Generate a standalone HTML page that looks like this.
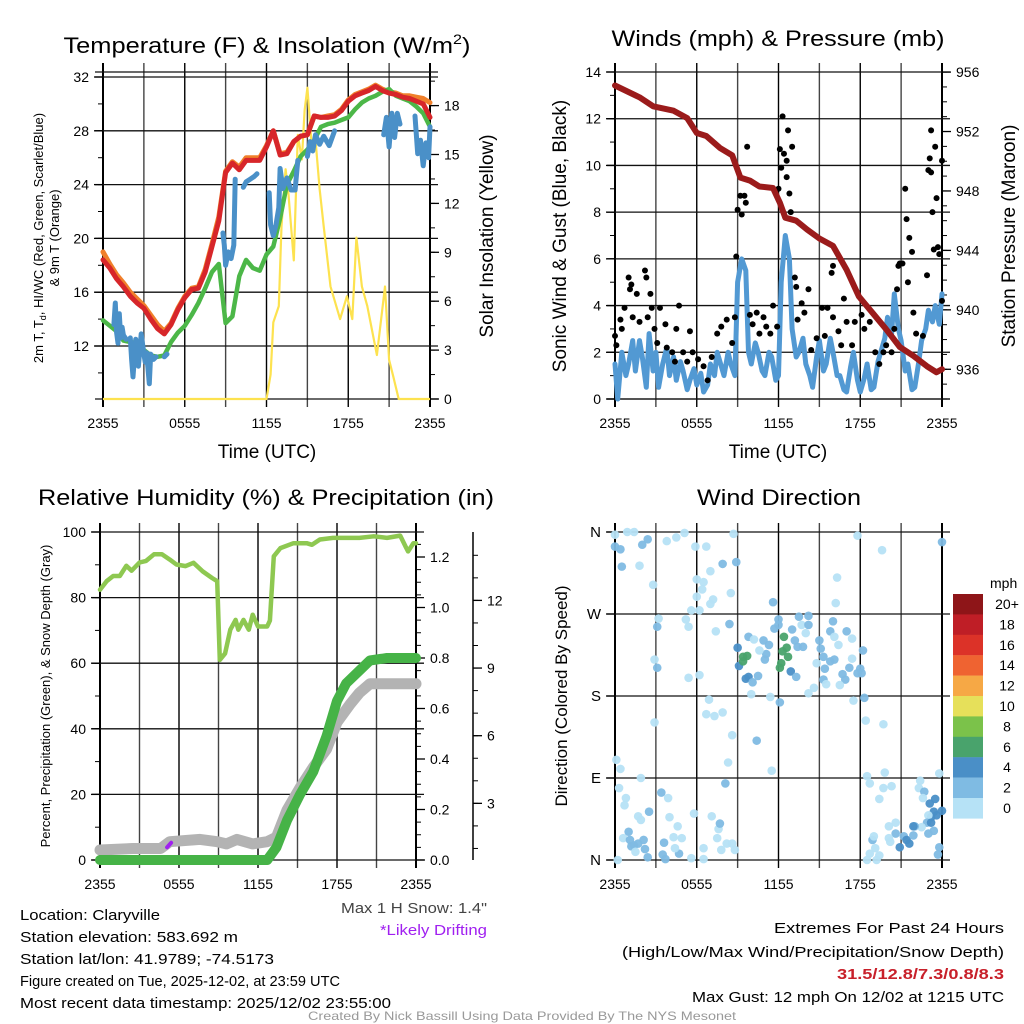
<!DOCTYPE html>
<html><head><meta charset="utf-8"><style>
html,body{margin:0;padding:0;background:#fff;}
svg{display:block;font-family:"Liberation Sans",sans-serif;}
</style></head><body>
<svg id="fig" xmlns="http://www.w3.org/2000/svg" width="1024" height="1024" viewBox="0 0 1024 1024">
<rect x="0" y="0" width="1024" height="1024" fill="#fff"/>
<text x="267" y="53" font-size="22" text-anchor="middle" textLength="407" lengthAdjust="spacingAndGlyphs">Temperature (F) &amp; Insolation (W/m<tspan font-size="14" dy="-9">2</tspan><tspan dy="9">)</tspan></text>
<text x="778" y="46" font-size="22" text-anchor="middle" textLength="333" lengthAdjust="spacingAndGlyphs">Winds (mph) &amp; Pressure (mb)</text>
<text x="266" y="505" font-size="22" text-anchor="middle" textLength="456" lengthAdjust="spacingAndGlyphs">Relative Humidity (%) &amp; Precipitation (in)</text>
<text x="779" y="505" font-size="22" text-anchor="middle" textLength="164" lengthAdjust="spacingAndGlyphs">Wind Direction</text>
<text x="267" y="458" font-size="19" text-anchor="middle">Time (UTC)</text>
<text x="778" y="458" font-size="19" text-anchor="middle">Time (UTC)</text>
<text transform="translate(43,238) rotate(-90)" font-size="13" text-anchor="middle">2m T, T<tspan font-size="9" dy="3">d</tspan><tspan dy="-3">, HI/WC (Red, Green, Scarlet/Blue)</tspan></text>
<text transform="translate(59,238) rotate(-90)" font-size="13" text-anchor="middle">&amp; 9m T (Orange)</text>
<text transform="translate(493,236) rotate(-90)" font-size="19" text-anchor="middle">Solar Insolation (Yellow)</text>
<text transform="translate(566,236) rotate(-90)" font-size="19" text-anchor="middle">Sonic Wind &amp; Gust (Blue, Black)</text>
<text transform="translate(1015,236) rotate(-90)" font-size="19" text-anchor="middle">Station Pressure (Maroon)</text>
<text transform="translate(50,696) rotate(-90)" font-size="13" text-anchor="middle">Percent, Precipitation (Green), &amp; Snow Depth (Gray)</text>
<text transform="translate(567,696) rotate(-90)" font-size="17" text-anchor="middle">Direction (Colored By Speed)</text>
<g font-size="15">
<text x="20" y="920" textLength="140" lengthAdjust="spacingAndGlyphs">Location: Claryville</text>
<text x="20" y="942" textLength="218" lengthAdjust="spacingAndGlyphs">Station elevation: 583.692 m</text>
<text x="20" y="964" textLength="254" lengthAdjust="spacingAndGlyphs">Station lat/lon: 41.9789; -74.5173</text>
<text x="20" y="986" font-size="14.5" textLength="320" lengthAdjust="spacingAndGlyphs">Figure created on Tue, 2025-12-02, at 23:59 UTC</text>
<text x="20" y="1008" textLength="371" lengthAdjust="spacingAndGlyphs">Most recent data timestamp: 2025/12/02 23:55:00</text>
<text x="341" y="913" fill="#444" textLength="146" lengthAdjust="spacingAndGlyphs">Max 1 H Snow: 1.4"</text>
<text x="380" y="935" fill="#a020f0" textLength="107" lengthAdjust="spacingAndGlyphs">*Likely Drifting</text>
<text x="774" y="933" textLength="230" lengthAdjust="spacingAndGlyphs">Extremes For Past 24 Hours</text>
<text x="622" y="957" textLength="382" lengthAdjust="spacingAndGlyphs">(High/Low/Max Wind/Precipitation/Snow Depth)</text>
<text x="837" y="979" fill="#c8202a" font-weight="bold" textLength="167" lengthAdjust="spacingAndGlyphs">31.5/12.8/7.3/0.8/8.3</text>
<text x="692" y="1002" textLength="312" lengthAdjust="spacingAndGlyphs">Max Gust: 12 mph On 12/02 at 1215 UTC</text>
<text x="308" y="1020" font-size="12" fill="#999" textLength="428" lengthAdjust="spacingAndGlyphs">Created By Nick Bassill Using Data Provided By The NYS Mesonet</text>
</g>
</svg>
<script>
// ---------- Data ----------
const hourTicks = [0, 6, 12, 18, 24];
const hourTickLabels = ["2355", "0555", "1155", "1755", "2355"];
const halfHours = [0,0.5,1,1.5,2,2.5,3,3.5,4,4.5,5,5.5,6,6.5,7,7.5,8,8.5,9,9.5,10,10.5,11,11.5,12,12.5,13,13.5,14,14.5,15,15.5,16,16.5,17,17.5,18,18.5,19,19.5,20,20.5,21,21.5,22,22.5,23,23.5,24];
const tempRed = [18.4,17.8,17.0,16.4,15.7,15.2,14.8,14.0,13.3,12.9,13.6,14.7,15.6,16.2,16.3,17.5,19.4,21.3,24.9,25.6,25.1,25.8,25.8,25.8,26.8,28.0,26.2,26.3,27.2,27.6,27.7,29.1,29.0,29.0,29.1,29.5,30.2,30.6,30.8,31.0,31.3,31.0,30.8,30.7,30.5,30.4,30.2,30.0,29.0];
const tempOrange = [19.0,18.1,17.3,16.7,16.0,15.5,15.0,14.3,13.6,13.1,13.7,14.8,15.7,16.3,16.4,17.7,19.6,21.6,25.0,25.7,25.3,26.0,26.0,26.0,26.9,28.0,26.3,26.4,27.2,27.6,27.7,29.1,29.0,29.1,29.2,29.6,30.3,30.7,30.9,31.1,31.4,31.1,30.9,30.8,30.6,30.6,30.5,30.4,30.1];
const tempGreen = [13.9,13.5,13.1,12.4,12.3,12.2,11.7,11.3,11.2,11.3,12.3,13.0,13.5,14.3,15.2,16.3,17.5,18.1,13.7,14.2,17.2,18.4,17.8,17.6,18.8,19.4,21.5,24.0,25.0,26.1,26.6,27.3,28.3,28.5,28.6,28.8,29.0,29.6,30.1,30.4,30.6,30.9,31.1,30.6,30.4,30.2,29.8,29.3,28.3];
const wcHours = [0.8,0.9,1.0,1.1,1.2,1.3,1.4,1.5,1.7,null,2.0,2.1,2.2,2.4,2.6,2.8,3.0,3.1,3.2,3.4,3.5,3.7,3.9,null,4.5,4.7,null,8.8,8.9,9.0,9.2,9.4,9.6,9.7,null,10.3,10.5,10.8,11.1,11.3,null,12.2,12.3,12.5,12.7,12.9,13.0,13.2,13.5,13.8,14.1,14.3,null,15.0,15.2,15.4,15.6,15.9,16.2,16.6,17.0,null,20.6,20.8,21.0,21.2,21.4,21.6,21.8,null,22.9,23.1,23.3,23.5,23.7,23.9,24];
const wcVals = [13.6,15.2,13.0,12.2,14.4,12.6,13.4,12.8,12.5,null,12.6,11.0,9.7,12.5,10.5,12.9,11.4,10.8,11.5,9.2,11.4,11.0,11.2,null,11.2,11.4,null,20.4,19.5,18.0,19.0,18.5,19.5,24.4,null,23.8,24.2,24.4,24.6,24.8,null,23.4,21.0,20.2,21.0,22.3,25.2,23.7,24.5,23.6,23.6,25.8,null,26.1,27.2,26.5,27.7,27.0,27.6,26.9,28.0,null,27.7,29.0,26.8,29.3,27.5,29.3,28.5,null,29.1,26.3,27.3,25.4,27.1,26.0,28.3];
const solarHours = [0,12,12.3,12.5,12.9,13.1,13.4,13.6,14,14.3,14.6,14.8,15,15.3,15.6,15.9,16.2,16.7,17.4,17.9,18.3,18.6,19,19.4,20.1,20.7,21,21.3,21.7,24];
const solarVals = [0,0,1.5,4.7,5.7,10.6,14.1,12.7,8.5,16.2,14.7,17.7,19.1,15.7,15.9,12.9,10.6,6.9,4.9,6.3,4.9,9.9,6.9,5.7,2.7,6.9,2.4,1.4,0,0];

const presHours = [0,1.8,2.8,4.3,5.3,6,6.7,7.7,8.6,9.2,9.9,10.6,11.6,12.1,12.5,13.3,14.1,15,16,17,17.9,18.9,19.9,20.9,21.9,22.9,23.6,24];
const presVals = [955.1,954.3,953.7,953.4,952.9,951.9,951.7,950.9,950.4,948.9,948.7,948.3,948.2,947.2,946.2,946.0,945.4,944.8,944.3,942.7,940.9,939.8,938.7,937.5,936.9,936.2,935.8,936.0];
const windHours = [0,0.2,0.5,0.8,1,1.3,1.5,1.8,2,2.3,2.5,2.8,3,3.2,3.5,3.8,4,4.3,4.5,4.8,5,5.3,5.5,5.8,6,6.3,6.5,6.8,7,7.3,7.5,7.8,8,8.3,8.5,8.8,9,9.3,9.6,9.8,10,10.3,10.5,10.8,11,11.3,11.5,11.8,12,12.2,12.5,12.8,13,13.3,13.5,13.8,14,14.3,14.5,14.8,15,15.3,15.5,15.8,16,16.3,16.5,16.8,17,17.3,17.5,17.8,18,18.3,18.5,18.8,19,19.3,19.5,19.8,20,20.3,20.5,20.8,21,21.3,21.5,21.8,22,22.3,22.5,22.8,23,23.3,23.5,23.8,24];
const windVals = [1.5,0,2,1,1.5,2.5,1.2,2.5,1.8,0.5,2.8,1.2,2,0.5,1.5,2.2,1,1.8,0.8,1.6,1.2,0.4,0.8,1.3,0.6,1.1,0.3,0.6,1.5,1.0,2,1.4,1,2.0,1.5,1,5,6,5.5,2,1.5,2.4,2,1.2,1,2.0,1.8,0.8,1,5,7,6,3,1.8,2,2.6,1.5,1.0,0.5,1.8,2.5,1.2,1.5,2.6,2,1.0,1,0.4,0.3,1.4,2,0.8,0.3,0.9,1.5,0.4,0.5,1.6,2,2.6,3.5,2.8,4.5,3.0,2.5,1.2,1.5,0.4,0.5,1.6,2.5,3.0,3.8,3.3,4,3.2,4.5,3.5,2];
const gustHours = [0,0.1,0.4,0.5,0.7,1.0,1.1,1.2,1.3,1.6,1.8,2.2,2.3,2.4,2.6,2.7,2.9,3.1,3.3,3.7,3.8,4.2,4.4,4.5,4.7,5,5.3,5.5,5.7,6.1,6.5,6.8,7.1,7.5,7.8,8.2,8.6,8.8,8.9,9.0,9.2,9.3,9.5,9.6,9.7,9.9,10.1,10.4,10.6,10.9,11.1,11.4,11.6,11.9,12.0,12.1,12.2,12.3,12.4,12.6,12.7,12.6,12.8,12.9,13.0,13.2,13.3,13.4,13.7,13.9,14.2,14.4,14.8,15.2,15.4,15.6,16.0,15.9,16.0,16.4,16.6,16.8,17.0,17.4,17.6,18.1,18.3,18.7,19.1,19.4,19.7,19.9,20.3,20.5,20.7,20.8,20.9,21.1,21.3,21.4,21.5,21.6,21.8,21.9,22.1,22.6,22.9,23.0,23.1,23.2,23.2,23.3,23.4,23.5,23.6,23.7,23.8,24.0,24.0];
const gustVals = [2.7,2.3,3.4,3.0,3.9,5.2,4.7,4.9,3.5,4.5,3.3,5.5,5.2,3.5,4.5,3.9,3.0,2.4,3.9,3.2,2.2,2.0,1.6,3.0,4.0,2.0,1.6,2.9,2.0,1.7,1.4,0.8,1.8,2.8,3.1,3.4,2.4,3.5,6.1,8.1,8.7,7.9,8.7,8.4,10.8,3.6,3.2,3.7,2.8,3.5,3.1,2.8,4.0,3.1,9.0,10.7,9.9,12.1,10.5,10.2,11.5,9.5,8.8,8.0,10.8,5.2,4.8,3.4,4.1,3.7,4.7,2.1,2.6,3.9,2.7,3.9,3.5,5.4,5.7,2.9,2.3,4.3,3.3,2.3,3.3,3.6,3.0,3.3,2.0,1.5,2.0,2.3,2.0,3.0,4.7,5.7,5.8,5.8,9.0,7.7,5.0,6.9,6.3,3.7,2.8,2.7,5.3,9.8,10.3,11.5,9.7,8.0,6.4,10.8,8.6,6.5,6.2,10.2,4.2];

const rhHours = [0,0.5,1,1.5,2,2.4,3,3.5,4.1,4.7,5.3,5.8,6.5,7.1,7.8,8.5,8.9,9.0,9.1,9.5,9.9,10.3,10.5,10.9,11.3,11.6,12,12.7,12.9,13.2,13.7,14.7,15.7,16.1,16.7,17.7,18.7,19.7,20.8,21.8,22.8,23.2,23.4,23.8,24];
const rhVals = [82.4,85,86.6,86.6,89.7,88.2,90.7,91.2,93.2,93.2,91.6,90.1,89.6,90.6,88.0,86.0,85.0,73,61.0,63,70.2,73.2,70.2,73.2,70.2,74.8,71.2,71.2,73,92.6,95.1,96.6,96.6,96.1,97.7,98.2,98.2,98.2,98.7,98.2,98.9,95.6,94.1,96.6,96.6];
const precipHours = [0,12.7,13.4,14.2,15.2,16.2,17.2,18,18.7,19.7,20.5,21.8,24];
const precipVals = [0,0,0.05,0.157,0.26,0.35,0.49,0.63,0.70,0.75,0.79,0.80,0.80];
const snowHours = [0,2.5,4.6,5.3,7.6,8.9,9.6,10.4,11.6,12.7,13.4,14.2,15.2,16.2,17.2,18,19,19.7,20.5,21.5,24];
const snowVals = [0.93,1.0,1.0,1.3,1.4,1.3,1.2,1.4,1.2,1.3,1.5,2.7,3.7,4.6,5.4,6.6,7.4,7.9,8.3,8.3,8.3];
const driftHours = [5.1,5.4];
const driftVals = [1.05,1.25];

const dirHours = [
0,0,0.4,0.9,1.4,2,2.4,0.5,1.8,2.8,
3.8,4.5,5.1,5.9,6.7,7,7.9,8.9,8.7,6,
6.5,6.4,6,7.2,7,8.5,5.6,6.2,3.2,3.1,
5.2,5.4,7.4,8.4,2.9,3.1,5.4,6.2,9,9.1,
9.4,9.7,9.4,9.6,9.8,10.1,10.5,9.8,10.2,10.9,
11.3,11.1,11,10.6,11.6,12,11.7,12,12.4,12.6,
12.3,12.7,12.2,12.1,12.9,13.3,13,13.2,13.5,13.7,
13.8,13.4,14.2,14.2,14,15,15.1,14.8,15.3,15.4,
15.3,15.5,15.8,16,16.1,16.4,15.8,16.1,17,17.4,
17.2,16.7,16.9,16.5,17.4,18.2,18,18.1,17.8,17.8,
16.3,16.2,19.6,18.3,17.5,18.4,19.7,14.6,14.2,11.5,
10.4,8.6,8.3,8.1,7.9,7.3,6.7,6.9,11.4,12.1,
10,2.9,0.1,0.4,1.9,0.3,0.8,0.7,1.7,1.9,
2.5,0.6,1,1.1,1.2,1.4,1.7,2.1,2.2,2.4,
1.5,0.2,3.4,3.9,4,4.6,4.7,3.5,3.7,3.6,
4.4,4.9,4.3,5.8,5.6,6.5,7.1,7.6,7.7,7.5,
7.8,8.2,8.6,8.8,6.5,18.5,18.7,19.8,19.7,20.3,
19.4,22.4,22.3,22.7,22.6,23.1,23.5,23.4,23.2,23.6,
24,23,23.8,22.9,23.2,22.5,22,21.9,23,23.4,
20.6,20.1,20.6,21.2,21.4,21.6,20.9,21.9,20.1,20.2,
18.9,19,19.1,18.7,18.5,19.4,19.2,23.8,23.7,24];
const dirDeg = [
357,344,341,360,360,346,352,322,323,302,
350,354,359,344,344,317,325,327,358,308,
305,297,289,286,281,293,274,274,265,256,
264,256,251,259,220,211,200,203,233,213,
223,224,218,199,201,195,202,245,242,241,
236,226,220,230,283,264,254,258,245,233,
229,223,216,211,207,201,253,241,267,258,
234,234,258,268,249,241,232,216,223,210,
198,193,251,262,245,236,218,220,251,243,
211,204,198,192,221,230,210,205,205,356,
310,282,340,178,175,153,149,189,183,98,
131,137,107,84,162,158,160,176,179,173,
182,151,110,100,90,79,68,60,48,44,
53,24,31,22,15,16,18,22,12,3,
9,0,74,68,47,37,7,6,1,19,
13,24,25,51,2,13,48,34,40,24,
11,18,18,11,1,92,84,96,79,81,
67,87,79,75,68,62,67,53,47,49,
54,49,95,41,41,36,37,37,29,32,
41,37,29,26,22,18,14,27,24,20,
22,26,13,7,0,5,0,14,6,349];
const dirSpeed = [
1,3,3,1,1,3,3,3,1,1,
1,1,1,1,1,1,3,3,1,1,
1,1,1,1,1,1,1,1,1,3,
1,1,1,3,1,3,1,1,5,5,
7,7,7,5,5,3,3,3,1,3,
3,3,3,1,3,3,3,3,7,7,
7,7,7,7,5,3,3,3,3,1,
3,3,3,3,1,3,3,1,3,3,
3,1,3,3,1,1,3,3,3,1,
3,3,3,1,1,3,3,3,3,1,
1,1,1,3,1,1,1,1,1,1,
3,1,1,3,1,1,1,1,1,3,
1,1,1,1,1,1,1,1,1,1,
3,1,3,3,3,3,3,3,3,3,
1,1,3,1,1,1,3,3,3,3,
1,1,1,1,1,1,1,1,3,1,
1,1,1,1,1,1,1,1,1,1,
1,1,1,3,1,5,5,5,5,5,
5,1,1,3,5,1,3,5,3,3,
1,1,3,3,5,5,5,3,1,1,
3,1,1,1,1,1,1,3,3,3];
const speedBins = ["20+","18","16","14","12","10","8","6","4","2","0"];
const speedColors = ["#8e1518","#bf1e26","#dc3228","#ef6331","#f6a845","#e6e05a","#7bc24a","#49a36c","#4a8fc7","#7fbbe3","#b6e2f6"];

// ---------- Helpers ----------
const NS = "http://www.w3.org/2000/svg";
const svg = document.getElementById("fig");
function el(tag, attrs, parent) {
  const e = document.createElementNS(NS, tag);
  for (const k in attrs) e.setAttribute(k, attrs[k]);
  (parent || svg).appendChild(e);
  return e;
}
function pathFrom(hours, vals, xf, yf) {
  let d = "", pen = false;
  for (let i = 0; i < hours.length; i++) {
    if (hours[i] === null || vals[i] === null) { pen = false; continue; }
    d += (pen ? "L" : "M") + xf(hours[i]).toFixed(1) + "," + yf(vals[i]).toFixed(1);
    pen = true;
  }
  return d;
}
function colorFor(s) {
  const idx = Math.min(10, Math.floor(s / 2));
  return speedColors[10 - idx];
}
function panel(name, x0, x1, y0, y1, xf, hLines) {
  const g = el("g", {});
  
  
  for (let h = 0; h <= 24; h += 3) {
    const X = xf(h);
    const gl = el("line", {x1: X, y1: y0 - 9, x2: X, y2: y1 + 8, stroke: (h % 6 === 0) ? "#000" : "#444", "stroke-width": (h === 0 || h === 24) ? 2 : 1.4}, g);
    
    
  }
  hLines.forEach(Y => {
    const hl = el("line", {x1: x0 - 8, y1: Y, x2: x1 + 8, y2: Y, stroke: "#111", "stroke-width": 1.3}, g);
    
    
  });
  hourTicks.forEach((h, i) => {
    const t = el("text", {x: xf(h), y: y1 + 29, "font-size": 14, "text-anchor": "middle"}, g);
    t.textContent = hourTickLabels[i];
    
    
  });
  return g;
}
function yTicks(name, axisX, dir, vals, yf, labels, minors, fontSize) {
  const g = el("g", {});
  
  
  minors.forEach(v => {
    const m = el("line", {x1: axisX, y1: yf(v), x2: axisX + dir * 5, y2: yf(v), stroke: "#000", "stroke-width": 1}, g);
    
    
  });
  vals.forEach((v, i) => {
    const t = el("line", {x1: axisX, y1: yf(v), x2: axisX + dir * 9, y2: yf(v), stroke: "#000", "stroke-width": 1.3}, g);
    
    
    const tx = el("text", {x: axisX + dir * 14, y: yf(v) + 5, "font-size": fontSize || 14, "text-anchor": dir < 0 ? "end" : "start"}, g);
    tx.textContent = labels[i];
    
    
  });
}
function range(a, b, s) { const r = []; for (let v = a; v <= b + 1e-9; v += s) r.push(+v.toFixed(3)); return r; }

// ---------- Panel 1: Temperature ----------
const tX = h => 103 + h * 327 / 24;
const tY = v => 346 - (v - 12) * 13.45;
const sY = v => 399 - v * 16.3;
const tempTicks = [12, 16, 20, 24, 28, 32];
const solarTicks = [0, 3, 6, 9, 12, 15, 18];
panel("temp", 103, 430, 72, 399, tX, tempTicks.map(tY).concat([72, 399]));
yTicks("temp-left-axis", 103, -1, tempTicks, tY, tempTicks.map(String), range(10, 32, 2));
yTicks("solar-right-axis", 430, 1, solarTicks, sY, solarTicks.map(String), range(0, 19.5, 1.5));
const pSolar = el("path", {d: pathFrom(solarHours, solarVals, tX, sY), fill: "none", stroke: "#fde24f", "stroke-width": 2.2, "stroke-linejoin": "round"});


const pOr = el("path", {d: pathFrom(halfHours, tempOrange, tX, tY), fill: "none", stroke: "#f0802b", "stroke-width": 5, "stroke-linejoin": "round", "stroke-linecap": "round"});


const pGr = el("path", {d: pathFrom(halfHours, tempGreen, tX, tY), fill: "none", stroke: "#4cb748", "stroke-width": 4.5, "stroke-linejoin": "round", "stroke-linecap": "round"});


const pWc = el("path", {d: pathFrom(wcHours, wcVals, tX, tY), fill: "none", stroke: "#4a90c8", "stroke-width": 5, "stroke-linejoin": "round", "stroke-linecap": "round"});


const pRed = el("path", {d: pathFrom(halfHours, tempRed, tX, tY), fill: "none", stroke: "#d7262a", "stroke-width": 5, "stroke-linejoin": "round", "stroke-linecap": "round"});



// ---------- Panel 2: Winds ----------
const wX = h => 615 + h * 327 / 24;
const wY = v => 399 - v * 327 / 14;
const pY = p => 399 - (p - 934) * 14.86;
const windTicks = [0, 2, 4, 6, 8, 10, 12, 14];
const presTicks = [936, 940, 944, 948, 952, 956];
panel("wind", 615, 942, 72, 399, wX, windTicks.map(wY).concat([399]));
yTicks("wind-left-axis", 615, -1, windTicks, wY, windTicks.map(String), range(0, 14, 1));
yTicks("pressure-right-axis", 942, 1, presTicks, pY, presTicks.map(String), range(934, 956, 1));
const pWind = el("path", {d: pathFrom(windHours, windVals, wX, wY), fill: "none", stroke: "#5299d3", "stroke-width": 5, "stroke-linejoin": "round", "stroke-linecap": "round"});


gustHours.forEach((h, i) => {
  const c = el("circle", {cx: wX(h), cy: wY(gustVals[i]), r: 3, fill: "#000"});
  
  
});
const pPres = el("path", {d: pathFrom(presHours, presVals, wX, pY), fill: "none", stroke: "#9b1b1b", "stroke-width": 6, "stroke-linejoin": "round", "stroke-linecap": "round"});



// ---------- Panel 3: RH & Precip ----------
const rX = h => 100 + h * 316 / 24;
const rY = v => 860 - v * 3.28;
const prY = v => 860 - v * 252.5;
const snY = v => 871 - v * 22.55;
const rhTicks = [0, 20, 40, 60, 80, 100];
const precipTicks = [0, 0.2, 0.4, 0.6, 0.8, 1.0, 1.2];
const snowTicks = [3, 6, 9, 12];
panel("rh", 100, 416, 532, 860, rX, rhTicks.map(rY));
yTicks("rh-left-axis", 100, -1, rhTicks, rY, rhTicks.map(String), range(0, 100, 10));
yTicks("precip-right-axis", 416, 1, precipTicks, prY, precipTicks.map(v => v.toFixed(1)), range(0, 1.25, 0.05));
const snAxis = el("line", {x1: 473, y1: 532, x2: 473, y2: 860, stroke: "#000", "stroke-width": 1.5});


yTicks("snow-right-axis", 473, 1, snowTicks, snY, snowTicks.map(String), range(1, 14, 1));
const pSnow = el("path", {d: pathFrom(snowHours, snowVals, rX, snY), fill: "none", stroke: "#b3b3b3", "stroke-width": 11, "stroke-linejoin": "round", "stroke-linecap": "round"});


const pDrift = el("path", {d: pathFrom(driftHours, driftVals, rX, snY), fill: "none", stroke: "#a020f0", "stroke-width": 4, "stroke-linecap": "round"});


const pPre = el("path", {d: pathFrom(precipHours, precipVals, rX, prY), fill: "none", stroke: "#46b347", "stroke-width": 10, "stroke-linejoin": "round", "stroke-linecap": "round"});


const pRh = el("path", {d: pathFrom(rhHours, rhVals, rX, rY), fill: "none", stroke: "#8ec851", "stroke-width": 4.5, "stroke-linejoin": "round", "stroke-linecap": "round"});



// ---------- Panel 4: Wind direction ----------
const dX = h => 615 + h * 327 / 24;
const dY = d => 860 - d * 328 / 360;
const dirTicks = [0, 90, 180, 270, 360];
const dirLabels = ["N", "E", "S", "W", "N"];
panel("direction", 615, 942, 532, 860, dX, dirTicks.map(dY));
yTicks("direction-left-axis", 615, -1, dirTicks, dY, dirLabels, [], 15);
dirHours.forEach((h, i) => {
  const c = el("circle", {cx: dX(h), cy: dY(dirDeg[i]), r: 4.3, fill: colorFor(dirSpeed[i]), "fill-opacity": 0.95});
  
  
});
const cb = el("g", {});


const mph = el("text", {x: 990, y: 588, "font-size": 14}, cb);
mph.textContent = "mph";


speedBins.forEach((lab, i) => {
  const r = el("rect", {x: 953, y: 594 + i * 20.4, width: 30, height: 20.6, fill: speedColors[i]}, cb);
  
  
  const t = el("text", {x: 1007, y: 594 + i * 20.4 + 15, "font-size": 14, "text-anchor": "middle"}, cb);
  t.textContent = lab;
  
  
});
</script>
</body></html>
